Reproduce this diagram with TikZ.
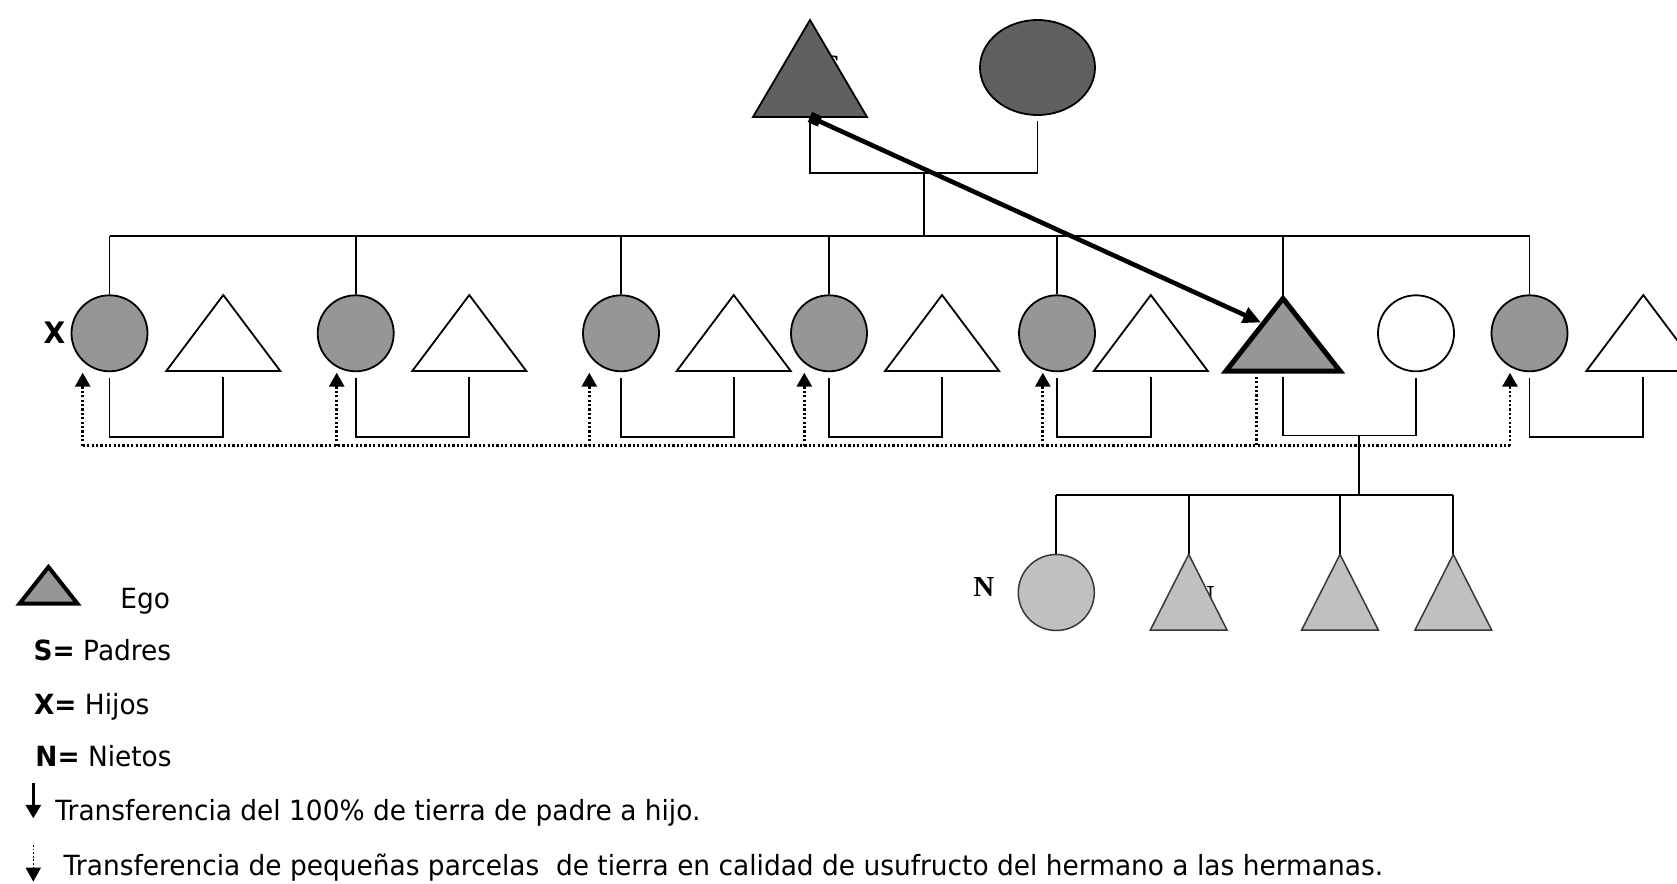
\documentclass[tikz,border=0pt]{standalone}
\usepackage{fontspec}
\setmainfont{DejaVu Sans}[FakeStretch=0.95]
\newfontfamily\timesf{Liberation Serif}
\usetikzlibrary{arrows.meta,shapes.geometric}
\definecolor{dk}{gray}{0.376}
\definecolor{md}{gray}{0.588}
\definecolor{lt}{gray}{0.753}
\definecolor{gk}{gray}{0.22}
\tikzset{
  pics/tri/.style 2 args={code={
    \path[pic actions] (-#1/2,#2/2) -- (0,-#2/2) -- (#1/2,#2/2) -- cycle;
    \coordinate (-top) at (0,-#2/2);
    \coordinate (-bot) at (0,#2/2);
  }},
}
\begin{document}
\begin{tikzpicture}[x=0.5pt,y=-0.5pt,
  ln/.style={line width=0.9pt},
  dots/.style={line width=1.45pt,dash pattern=on 1.1pt off 1.1pt},
  circ/.style={circle,draw,line width=0.9pt,minimum size=38pt,inner sep=0pt},
  sis/.style={circ,fill=md},
  gcirc/.style={circle,draw=gk,fill=lt,line width=0.75pt,minimum size=38pt,inner sep=0pt},
  uptip/.style={-{Triangle[length=7pt,width=7.5pt]}},
  lbl/.style={anchor=base west,inner sep=0pt},
  legfont/.style={font=\fontsize{13.9}{16}\selectfont},
]
\useasboundingbox (0,0) rectangle (1677,884);
\fill[white] (0,0) rectangle (1677,884);
\clip (0,0) rectangle (1677,884);

% hidden labels (partly covered)
\node[lbl,font=\timesf\bfseries\fontsize{14}{16}\selectfont] (hidS) at (824,74) {S};
\node[lbl,font=\timesf\bfseries\fontsize{14.5}{16}\selectfont] (hidN) at (1193,605.5) {N};

% parents
\pic[draw,fill=dk,line width=0.9pt] (F) at (810,68.5) {tri={114}{97}};
\node[ellipse,draw,fill=dk,line width=0.9pt,minimum width=57.5pt,minimum height=47.5pt,inner sep=0pt] (M) at (1037.5,67.5) {};

\coordinate (pc) at (924,173);
\coordinate (sc) at (924,236);
\draw[ln] (F-bot) |- (pc) -| ([yshift=-2.5pt]M.south);
\draw[ln] (pc) -- (sc);

% children row
\node[sis] (c1) at (109.5,333.3) {};
\node[sis] (c2) at (355.7,333.3) {};
\node[sis] (c3) at (621,333.3) {};
\node[sis] (c4) at (829,333.3) {};
\node[sis] (c5) at (1057,333.3) {};
\node[circ,fill=white] (W) at (1416,333.3) {};
\node[sis] (c7) at (1529.5,333.3) {};

\pic[draw,fill=white,line width=0.9pt] (t1) at (223.3,333) {tri={114}{76}};
\pic[draw,fill=white,line width=0.9pt] (t2) at (469.3,333) {tri={114}{76}};
\pic[draw,fill=white,line width=0.9pt] (t3) at (733.7,333) {tri={114}{76}};
\pic[draw,fill=white,line width=0.9pt] (t4) at (942,333) {tri={114}{76}};
\pic[draw,fill=white,line width=0.9pt] (t5) at (1150.8,333) {tri={114}{76}};
\pic[draw,fill=white,line width=0.9pt] (t7) at (1643.3,333) {tri={114}{76}};
\pic[draw,fill=md,line width=2.5pt] (E) at (1283,334.75) {tri={114}{72.5}};

\node[lbl,font=\bfseries\fontsize{14.8}{16}\selectfont] (labX) at (43.3,343.3) {X};

% sibling line and drops
\draw[ln] (sc -| c1) -- (sc -| c7);
\foreach \n in {c1,c2,c3,c4,c5,c7} \draw[ln] (sc -| \n) -- (\n.north);
\draw[ln] (sc -| E-top) -- (E-top);

% couples
\foreach \a/\b in {c1/t1,c2/t2,c3/t3,c4/t4,c5/t5,c7/t7}
  \draw[ln] ([yshift=-2.75pt]\a.south) -- ++(0,59) -| ([yshift=-2.75pt]\b-bot);
\draw[ln] ([yshift=-2.75pt]E-bot) -- ++(0,59) -| ([yshift=-2.75pt]W.south);

% dotted transfers
\coordinate (dl) at (0,445.7);
\coordinate (es) at (1256.7,376.7);
\coordinate (d1) at (82.7,372.7);
\coordinate (d2) at (336.7,372.7);
\coordinate (d3) at (589.3,372.7);
\coordinate (d4) at (804.3,372.7);
\coordinate (d5) at (1042.8,372.7);
\coordinate (d6) at (1510,372.7);
\draw[dots] (d1 |- dl) -- (d6 |- dl);
\draw[dots] (es) -- (es |- dl);
\foreach \d in {d1,d2,d3,d4,d5,d6} \draw[dots,uptip] (\d |- dl) -- (\d);

% grandchildren
\coordinate (ec) at (1359.3,435.8);
\coordinate (gc) at (1359.3,495);
\draw[ln] (ec) -- (gc);
\node[gcirc] (g1) at (1056.3,592.5) {};
\pic[draw=gk,fill=lt,line width=0.75pt] (g2) at (1188.7,592.2) {tri={76.7}{75.7}};
\pic[draw=gk,fill=lt,line width=0.75pt] (g3) at (1340,592.2) {tri={76.7}{75.7}};
\pic[draw=gk,fill=lt,line width=0.75pt] (g4) at (1453.3,592.2) {tri={76.7}{75.7}};
\draw[ln] (gc -| g1) -- (gc -| g4-top);
\draw[ln] (gc -| g1) -- (g1.north);
\foreach \g in {g2,g3,g4} \draw[ln] (gc -| \g-top) -- (\g-top);
\node[lbl,font=\timesf\bfseries\fontsize{14.5}{16}\selectfont] (labN) at (973,596.7) {N};

% thick arrow
\coordinate (et) at (1261,322.5);
\draw[line width=2.3pt,{Square[length=5.5pt,width=5.5pt]}-{Triangle[length=9pt,width=8pt]}] (F-bot) -- (et);

% legend
\pic[draw,fill=md,line width=2pt] (LE) at (48.5,585.35) {tri={58}{36.7}};
\node[lbl,legfont] (lego) at (120,608.3) {Ego};
\node[lbl,legfont] (legS) at (33.3,660) {\textbf{S=} Padres};
\node[lbl,legfont] (legX) at (33.7,714) {\textbf{X=} Hijos};
\node[lbl,legfont] (legN) at (35,766.7) {\textbf{N=} Nietos};
\coordinate (la1) at (33.3,782.7);
\coordinate (la2) at (33.3,818.3);
\draw[line width=1.5pt,-{Triangle[length=6.7pt,width=7.5pt]}] (la1) -- (la2);
\node[lbl,legfont] (legT1) at (55,820) {Transferencia del 100\% de tierra de padre a hijo.};
\coordinate (lb1) at (33.3,845);
\coordinate (lb2) at (33.3,881.7);
\draw[line width=0.8pt,dash pattern=on 0.9pt off 0.9pt,-{Triangle[length=7pt,width=7.5pt]}] (lb1) -- (lb2);
\node[lbl,legfont] (legT2) at (63.3,875) {Transferencia de pequeñas parcelas\ \ de tierra en calidad de usufructo del hermano a las hermanas.};
\end{tikzpicture}
\end{document}
